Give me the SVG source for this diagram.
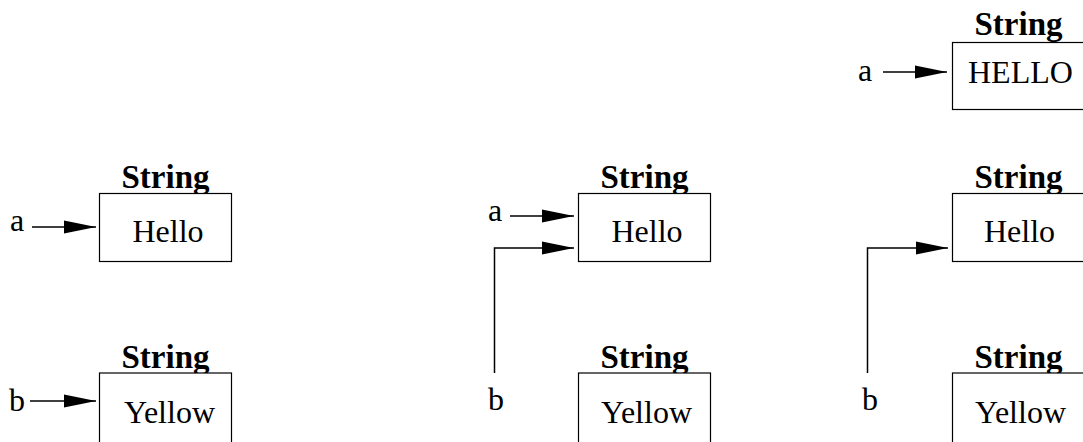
<svg xmlns="http://www.w3.org/2000/svg" width="1083" height="442" viewBox="0 0 1083 442">
  <style>
    .box { fill: #fff; stroke: #000; stroke-width: 1.2; }
    .type { font-family: "Liberation Serif", "Times New Roman", serif; font-size: 33px; font-weight: bold; fill: #000; text-anchor: middle; }
    .val { font-family: "Liberation Serif", "Times New Roman", serif; font-size: 32px; fill: #000; }
    .var { font-family: "Liberation Serif", "Times New Roman", serif; font-size: 32px; fill: #000; }
    .ref { fill: none; stroke: #000; stroke-width: 1.5; marker-end: url(#head); }
  </style>
  <defs>
    <marker id="head" markerUnits="userSpaceOnUse" markerWidth="32" markerHeight="14" refX="32" refY="7" orient="auto">
      <path d="M0,0.5 L32,7 L0,13.5 z" fill="#000"/>
    </marker>
  </defs>
  <rect width="1083" height="442" fill="#fff"/>

  <!-- step 1: two separate strings -->
  <g id="s1-hello">
    <text class="type" x="165.5" y="188">String</text>
    <rect class="box" x="99.5" y="193.5" width="132" height="68"/>
    <text class="val" x="132.5" y="242">Hello</text>
  </g>
  <g id="s1-yellow">
    <text class="type" x="165.5" y="368">String</text>
    <rect class="box" x="99.5" y="373" width="132" height="80"/>
    <text class="val" x="124" y="423">Yellow</text>
  </g>
  <g id="s1-a"><text class="var" x="10" y="231">a</text></g>
  <g id="s1-b"><text class="var" x="9" y="411">b</text></g>

  <!-- step 2: b = a -->
  <g id="s2-hello">
    <text class="type" x="644.5" y="188">String</text>
    <rect class="box" x="578.5" y="193.5" width="132" height="68"/>
    <text class="val" x="611.5" y="242">Hello</text>
  </g>
  <g id="s2-yellow">
    <text class="type" x="644.5" y="368">String</text>
    <rect class="box" x="578.5" y="373" width="132" height="80"/>
    <text class="val" x="601" y="423">Yellow</text>
  </g>
  <g id="s2-a"><text class="var" x="488" y="221">a</text></g>
  <g id="s2-b"><text class="var" x="488" y="410">b</text></g>

  <!-- step 3: a = a.toUpperCase() -->
  <g id="s3-upper">
    <text class="type" x="1018.5" y="35">String</text>
    <rect class="box" x="952.5" y="42.5" width="132" height="67"/>
    <text class="val" x="968" y="83">HELLO</text>
  </g>
  <g id="s3-hello">
    <text class="type" x="1018.5" y="188">String</text>
    <rect class="box" x="952.5" y="193.5" width="132" height="68"/>
    <text class="val" x="984" y="242">Hello</text>
  </g>
  <g id="s3-yellow">
    <text class="type" x="1018.5" y="368">String</text>
    <rect class="box" x="952.5" y="373" width="132" height="80"/>
    <text class="val" x="975" y="423">Yellow</text>
  </g>
  <g id="s3-a"><text class="var" x="858" y="81">a</text></g>
  <g id="s3-b"><text class="var" x="862" y="410">b</text></g>

  <!-- references -->
  <g id="connectors">
    <path class="ref" d="M32,227 H96"/>
    <path class="ref" d="M30,401 H96"/>
    <path class="ref" d="M510,216 H574"/>
    <path class="ref" d="M494.5,373 V248 H574"/>
    <path class="ref" d="M883,72 H947"/>
    <path class="ref" d="M867.5,373 V248 H948"/>
  </g>
</svg>
